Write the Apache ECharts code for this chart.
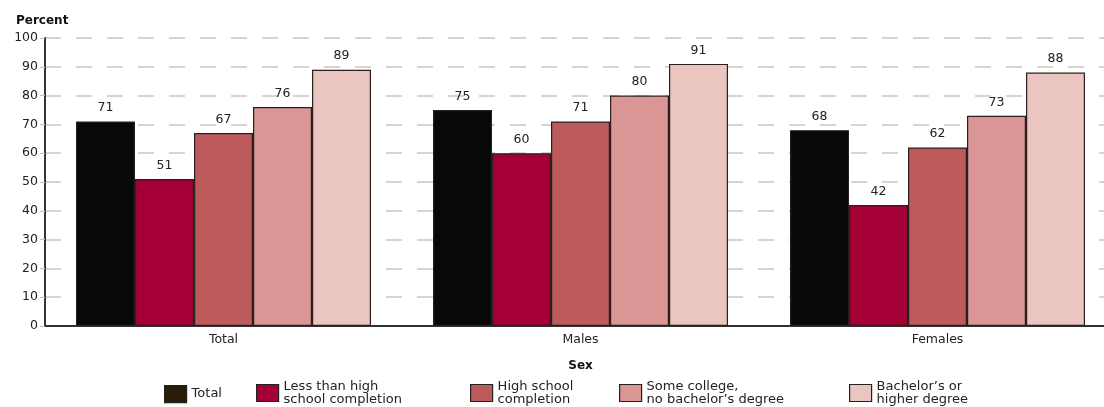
<!DOCTYPE html>
<html><head><meta charset="utf-8">
<script src="https://cdn.jsdelivr.net/npm/echarts@6/dist/echarts.min.js"></script>
<style>html,body{margin:0;padding:0;background:#fff;overflow:hidden;width:1104px;height:407px}#c{width:1120px;height:407px}</style>
</head><body><div id="c"></div>
<script>
const categories = ['Total', 'Males', 'Females'];
const seriesNames = ['Total', 'Less than high\nschool completion', 'High school\ncompletion', 'Some college,\nno bachelor\u2019s degree', 'Bachelor\u2019s or\nhigher degree'];
const totalVals = [71, 75, 68];
const lessHSVals = [51, 60, 42];
const hsVals = [67, 71, 62];
const someCollegeVals = [76, 80, 73];
const bachelorVals = [89, 91, 88];
const yTicks = [0, 10, 20, 30, 40, 50, 60, 70, 80, 90, 100];

const colors = ['#070808', '#a50035', '#bd5a5b', '#d99694', '#ebc5c0'];
const legendColors = ['#2a1c08', '#a50035', '#bd5a5b', '#d99694', '#ebc5c0'];
const allVals = [totalVals, lessHSVals, hsVals, someCollegeVals, bachelorVals];
const font = '"DejaVu Sans", sans-serif';
const legendLeft = [164, 256, 470, 619, 849];

const chart = echarts.init(document.getElementById('c'));
chart.setOption({
  animation: false,
  textStyle: {fontFamily: font},
  grid: {left: 45, top: 38, width: 1071, height: 288, containLabel: false},
  title: {text: 'Percent', left: 11, top: 10, textStyle: {fontSize: 12, fontWeight: 'bold', color: '#111', fontFamily: font}},
  legend: seriesNames.map((n, i) => ({
    data: [{name: n, itemStyle: {color: legendColors[i], borderColor: '#222', borderWidth: 1.2}}],
    left: legendLeft[i], top: i === 0 ? 385 : 380, itemWidth: 22, itemHeight: 17, itemGap: 10,
    icon: 'rect', selectedMode: false, padding: 0,
    textStyle: {fontSize: 13, color: '#222', lineHeight: 13, fontFamily: font}
  })),
  xAxis: {
    type: 'category', data: categories,
    name: 'Sex', nameLocation: 'middle', nameGap: 34,
    nameTextStyle: {fontSize: 12, fontWeight: 'bold', color: '#111'},
    axisLine: {lineStyle: {color: '#333', width: 2}},
    axisTick: {show: false},
    axisLabel: {fontSize: 12.5, color: '#222', margin: 7}
  },
  yAxis: {
    type: 'value', min: 0, max: 100, interval: 10,
    axisLine: {show: true, lineStyle: {color: '#333', width: 2}},
    axisTick: {show: true, length: 5, inside: false, lineStyle: {color: '#bbb'}},
    axisLabel: {fontSize: 12.5, color: '#222', margin: 7,
      formatter: v => yTicks.includes(v) ? String(v) : ''},
    splitLine: {show: true, lineStyle: {color: '#cdc6ba', type: [16, 15], width: 1.5}}
  },
  series: seriesNames.map((n, i) => ({
    name: n, type: 'bar', data: allVals[i],
    barWidth: 59, barGap: '0%',
    itemStyle: {color: colors[i], borderColor: '#2a1f1f', borderWidth: 1.2},
    label: {show: true, position: 'top', distance: 7, fontSize: 12.5, color: '#222'}
  }))
});
</script></body></html>
